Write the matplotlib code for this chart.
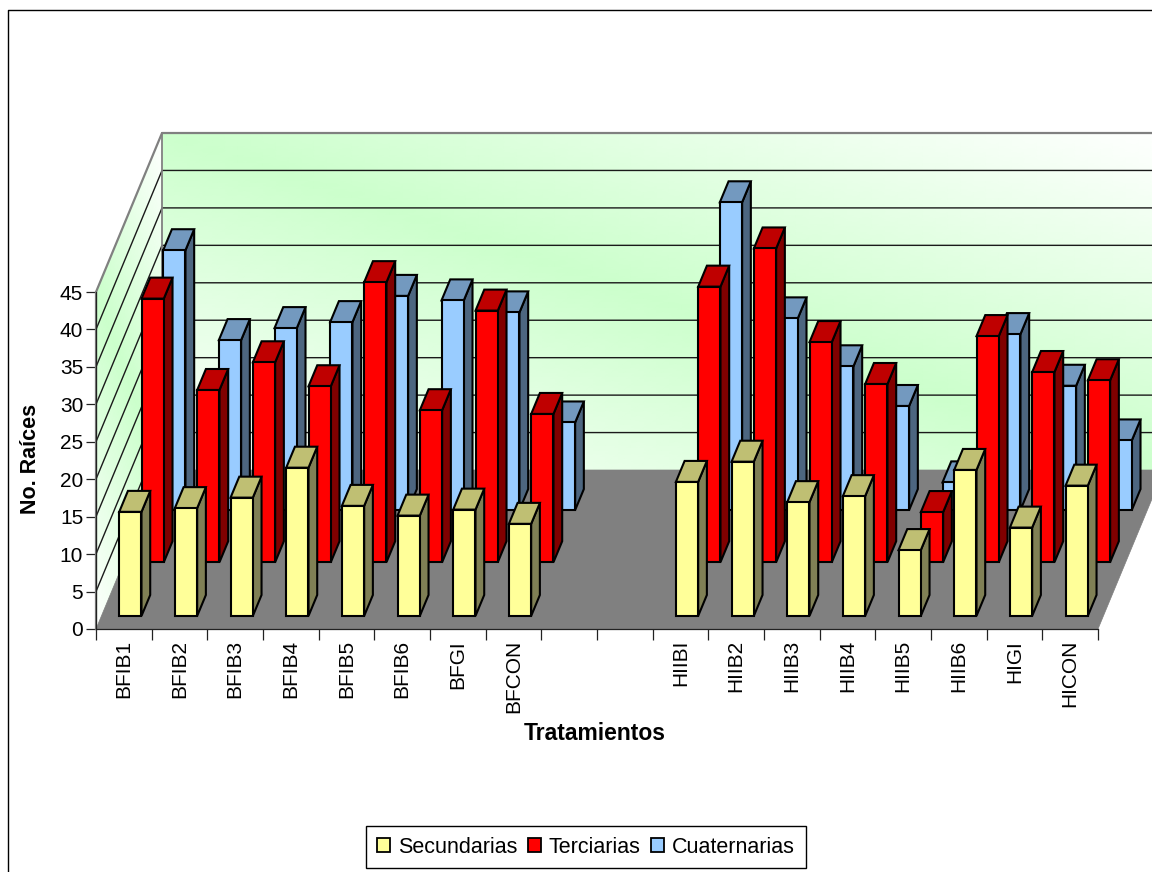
import numpy as np
import matplotlib
matplotlib.use("Agg")
import matplotlib.pyplot as plt
from matplotlib.colors import LinearSegmentedColormap
from matplotlib.lines import Line2D
from matplotlib.patches import Patch, Polygon

plt.rcParams['font.family'] = ['Liberation Sans', 'DejaVu Sans']

tratamientos = ["BFIB1", "BFIB2", "BFIB3", "BFIB4", "BFIB5", "BFIB6", "BFGI", "BFCON", "", "",
                "HIIBI", "HIIB2", "HIIB3", "HIIB4", "HIIB5", "HIIB6", "HIGI", "HICON"]
secundarias = [13.9, 14.4, 15.8, 19.8, 14.7, 13.4, 14.2, 12.3, None, None,
               17.9, 20.6, 15.2, 16.0, 8.8, 19.5, 11.8, 17.4]
terciarias = [35.2, 23.0, 26.7, 23.5, 37.4, 20.3, 33.6, 19.8, None, None,
              36.8, 41.9, 29.4, 23.8, 6.7, 30.2, 25.4, 24.3]
cuaternarias = [34.7, 22.7, 24.3, 25.1, 28.6, 28.0, 26.4, 11.7, None, None,
                41.1, 25.6, 19.2, 13.9, 3.7, 23.5, 16.6, 9.3]
yticks = [0, 5, 10, 15, 20, 25, 30, 35, 40, 45]

# oblique projection: how far one unit of depth moves a point, in x slots and y values
DX = 1.186
DY = 21.23
BAR_W = 0.40
BAR_D = 0.132
ymax = 45
nslots = len(tratamientos)


def proj(x, v, d):
    return x + d * DX, v + d * DY


def cara(ax, puntos, color, z, edge="black", lw=1.5):
    ax.add_patch(Polygon([proj(*p) for p in puntos], closed=True, facecolor=color,
                         edgecolor=edge, linewidth=lw, joinstyle="miter",
                         clip_on=False, zorder=z))


def pared(ax, xs, ds, vs, cmap):
    # gradient runs white -> green -> white along the wall diagonal
    uu, vv = np.meshgrid(np.linspace(0, 1, len(xs)), vs / ymax)
    g = 1 - np.abs(uu + vv - 1)
    X = np.tile(xs, (len(vs), 1)) + np.tile(ds, (len(vs), 1)) * DX
    Y = vv * ymax + np.tile(ds, (len(vs), 1)) * DY
    ax.pcolormesh(X, Y, g, cmap=cmap, vmin=0, vmax=1, shading="gouraud", zorder=1,
                  clip_on=False, rasterized=True)


def barras(ax, valores, d0, frente, arriba, lado, z):
    for i, val in enumerate(valores):
        if val is None:
            continue
        x0 = i + 0.5 - BAR_W / 2 + 0.02
        x1 = x0 + BAR_W
        d1 = d0 + BAR_D
        cara(ax, [(x1, 0, d0), (x1, 0, d1), (x1, val, d1), (x1, val, d0)], lado, z)
        cara(ax, [(x0, val, d0), (x1, val, d0), (x1, val, d1), (x0, val, d1)], arriba, z)
        cara(ax, [(x0, 0, d0), (x1, 0, d0), (x1, val, d0), (x0, val, d0)], frente, z)


fig = plt.figure(figsize=(11.52, 8.72), dpi=100, facecolor="white")
ax = fig.add_axes([96 / 1152, 1 - 629 / 872, 1002 / 1152, 337 / 872])
ax.patch.set_visible(False)

verdes = LinearSegmentedColormap.from_list("verdes", ["#FFFFFF", "#CCFFCC"])
n = 80
pared(ax, np.linspace(0, nslots, n), np.ones(n), np.linspace(0, ymax, 40), verdes)
pared(ax, np.zeros(n), np.linspace(0, 1, n), np.linspace(0, ymax, 40), verdes)

# piso
cara(ax, [(0, 0, 0), (nslots, 0, 0), (nslots, 0, 1), (0, 0, 1)], "#808080", 2, edge="#808080", lw=0.5)

# grid lines on the back and side walls
for v in yticks[1:-1]:
    xx, yy = zip(proj(0, v, 0), proj(0, v, 1), proj(nslots, v, 1))
    ax.plot(xx, yy, color="#1a1a1a", lw=1.0, zorder=3, clip_on=False)
xx, yy = zip(proj(0, 0, 0), proj(0, ymax, 0), proj(0, ymax, 1), proj(nslots, ymax, 1))
ax.plot(xx, yy, color="#808080", lw=1.6, zorder=3, clip_on=False)
xx, yy = zip(proj(0, ymax, 1), proj(0, 0, 1))
ax.plot(xx, yy, color="#808080", lw=1.3, zorder=3, clip_on=False)

barras(ax, cuaternarias, 0.748, "#99CCFF", "#7399BF", "#4D6680", 4)
barras(ax, terciarias, 0.42, "#FF0000", "#BF0000", "#800000", 5)
barras(ax, secundarias, 0.082, "#FFFF99", "#BFBF73", "#808055", 6)

ax.set_xlim(0, nslots)
ax.set_ylim(0, ymax)
for lado_eje in ("top", "right"):
    ax.spines[lado_eje].set_visible(False)
for lado_eje in ("left", "bottom"):
    ax.spines[lado_eje].set_color("#222222")
    ax.spines[lado_eje].set_linewidth(0.9)
    ax.spines[lado_eje].set_zorder(7)

ax.set_yticks(yticks)
ax.tick_params(axis="y", length=7.2, width=0.9, pad=2, labelsize=15, color="#222222")
ax.set_xticks(np.arange(nslots + 1))
ax.set_xticklabels([])
ax.tick_params(axis="x", which="major", length=8, width=0.9, color="#222222")
ax.set_xticks(np.arange(nslots) + 0.5, minor=True)
ax.set_xticklabels(tratamientos, minor=True, rotation=90, va="top", ha="center", fontsize=15)
ax.tick_params(axis="x", which="minor", length=0, pad=8)

fig.text(595 / 1152, 1 - 733.5 / 872, "Tratamientos", fontsize=16.5, fontweight="bold",
         ha="center", va="center")
fig.text(31 / 1152, 1 - 459 / 872, "No. Raíces", fontsize=15.5, fontweight="bold",
         rotation=90, ha="center", va="center")

handles = [Patch(facecolor="#FFFF99", edgecolor="black", linewidth=1.3, label="Secundarias"),
           Patch(facecolor="#FF0000", edgecolor="black", linewidth=1.3, label="Terciarias"),
           Patch(facecolor="#99CCFF", edgecolor="black", linewidth=1.3, label="Cuaternarias")]
leg = fig.legend(handles=handles, loc="center", bbox_to_anchor=(586 / 1152, 1 - 847 / 872), ncol=3,
                 fontsize=15.5, frameon=True, fancybox=False, edgecolor="black", framealpha=1,
                 handlelength=0.62, handleheight=0.62, handletextpad=0.36, columnspacing=0.48,
                 borderpad=0.5, borderaxespad=0)
leg.get_frame().set_linewidth(1.0)

# chart area border, running off the right and bottom of the canvas
fig.add_artist(Line2D([7.5 / 1152, 7.5 / 1152, 1], [0, 1 - 10 / 872, 1 - 10 / 872],
                      color="black", lw=1.0))

fig.savefig("out.png", dpi=100)
